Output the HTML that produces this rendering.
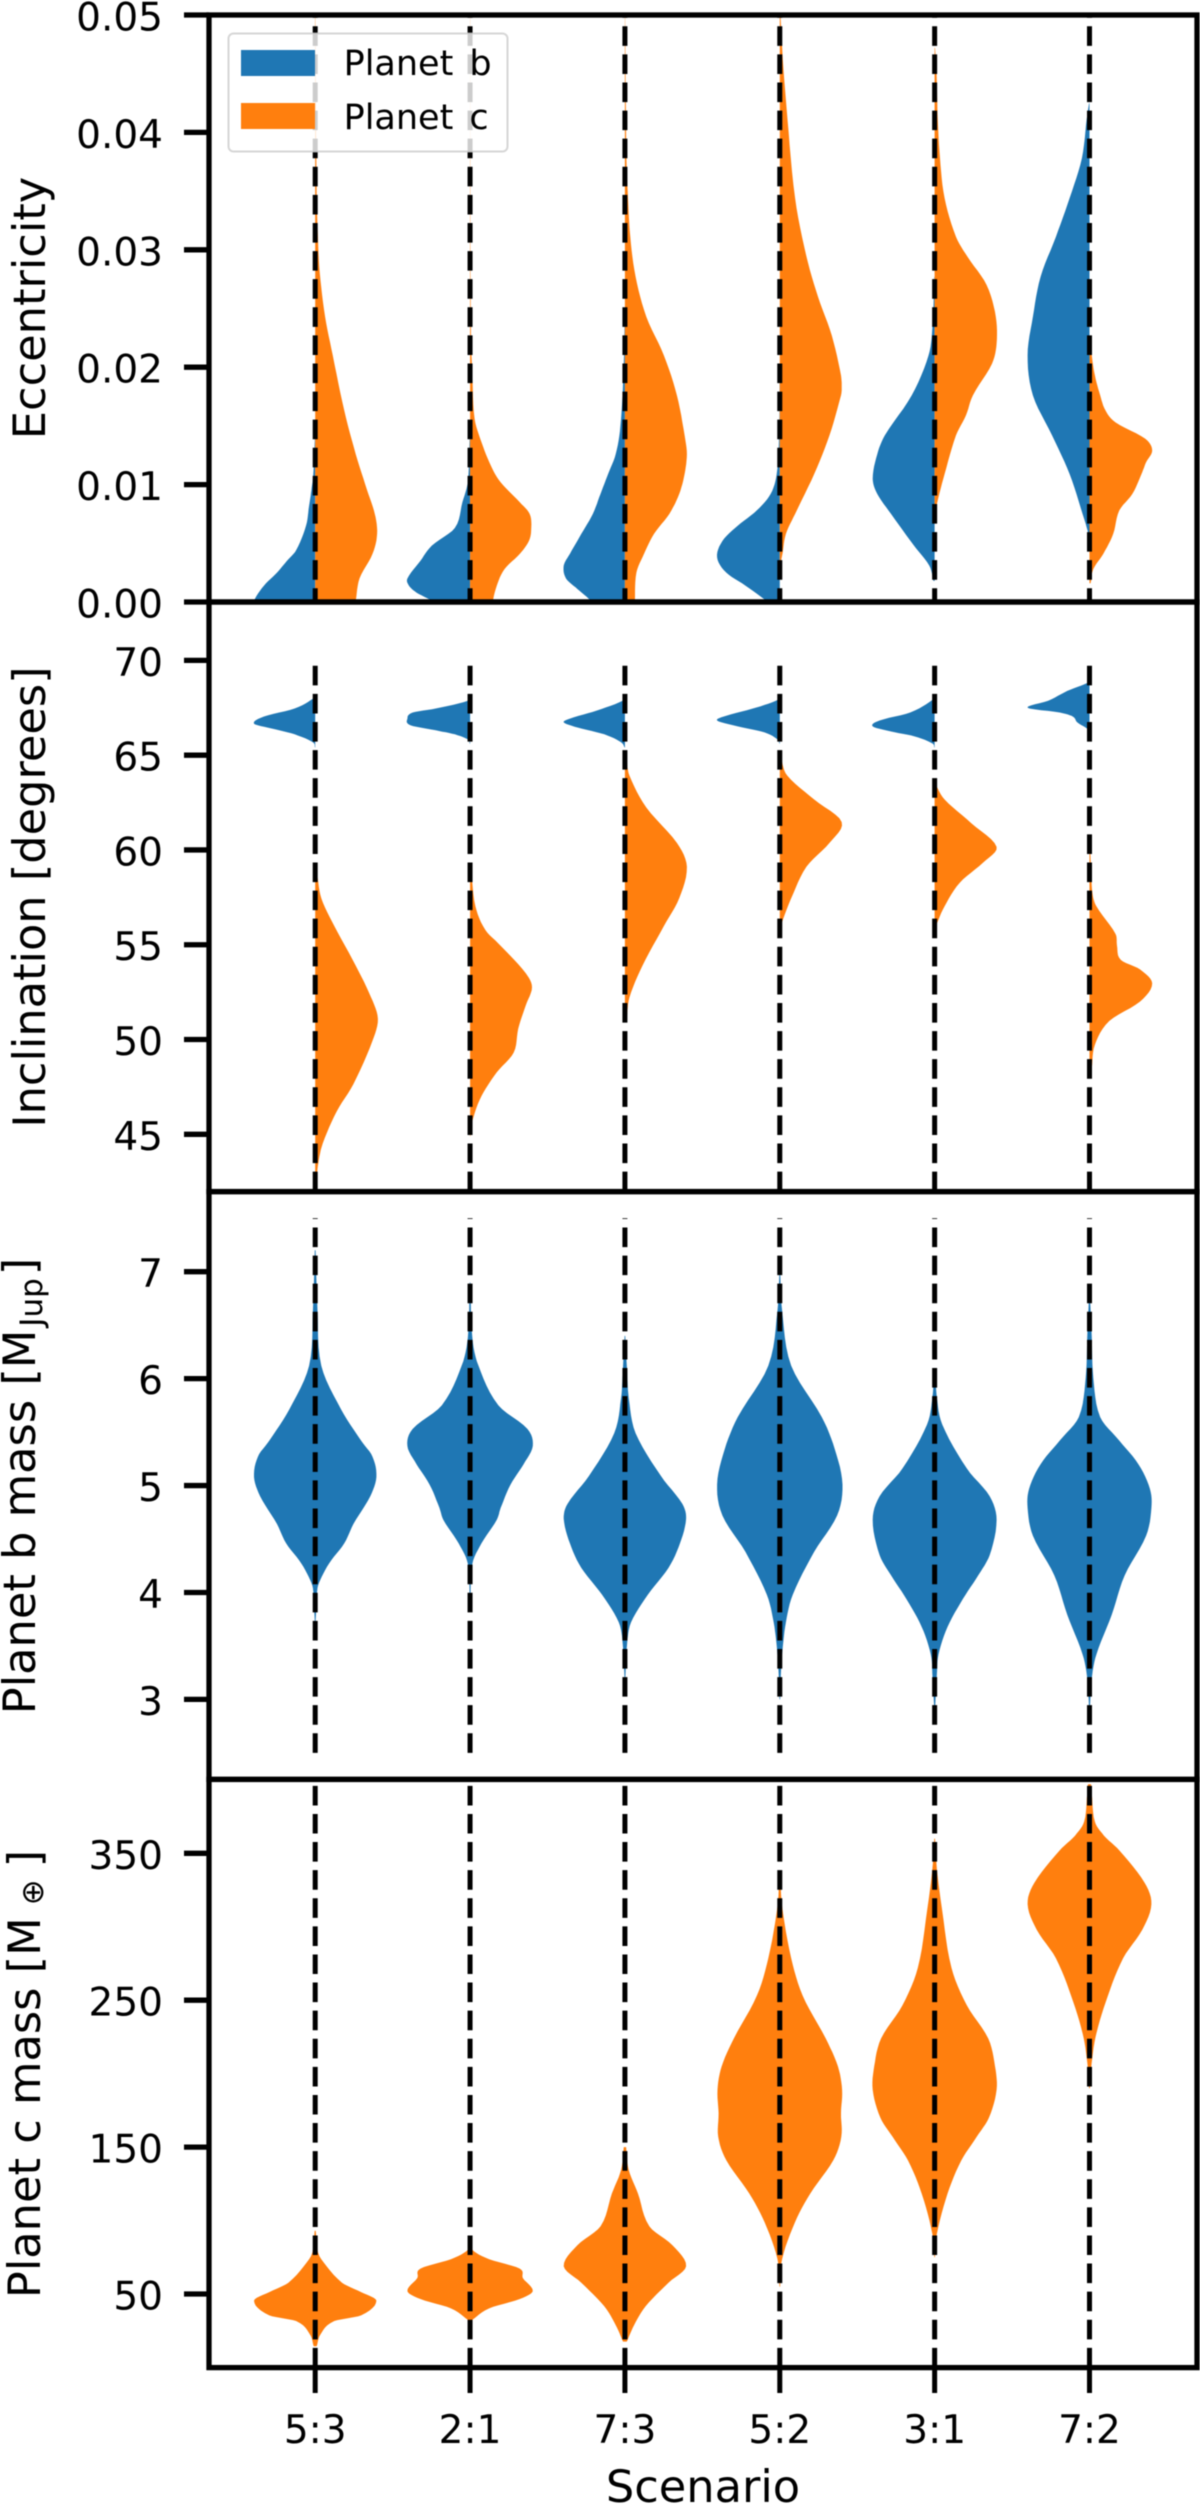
<!DOCTYPE html>
<html lang="en">
<head>
<meta charset="utf-8">
<title>Violin plots of orbital parameters by resonance scenario</title>
<style>
html,body{margin:0;padding:0;background:#fff;}
svg{display:block;font-family:"DejaVu Sans","Liberation Sans",sans-serif;fill:#000;filter:blur(0.4px);}
</style>
</head>
<body>
<svg id="chart" xmlns="http://www.w3.org/2000/svg" width="1200" height="2508" viewBox="0 0 1200 2508">
  <defs>
    <clipPath id="clip-ecc"><rect x="209" y="15" width="988" height="587"/></clipPath>
    <clipPath id="clip-inc"><rect x="209" y="602" width="988" height="589.6"/></clipPath>
    <clipPath id="clip-mb"><rect x="209" y="1191.6" width="988" height="587.8"/></clipPath>
    <clipPath id="clip-mc"><rect x="209" y="1779.4" width="988" height="588.2"/></clipPath>
  </defs>
  <g id="marks"></g>
  <g id="axes" fill="none" stroke="#000" stroke-width="5.3">
    <rect x="209" y="15" width="988" height="587"/>
    <rect x="209" y="602" width="988" height="589.6"/>
    <rect x="209" y="1191.6" width="988" height="587.8"/>
    <rect x="209" y="1779.4" width="988" height="588.2"/>
  </g>
  <g id="ticks"></g>
  <g font-size="44.7">
    <text transform="translate(45,308) rotate(-90)" text-anchor="middle">Eccentricity</text>
    <text transform="translate(45,897) rotate(-90)" text-anchor="middle">Inclination [degrees]</text>
    <text transform="translate(35,1486) rotate(-90)" text-anchor="middle">Planet b mass [M<tspan dy="7" dx="3" font-size="31">Jup</tspan><tspan dy="-7" dx="3">]</tspan></text>
    <text transform="translate(40,2074) rotate(-90)" text-anchor="middle">Planet c mass [M<tspan dy="3" dx="12" font-size="31">⊕</tspan><tspan dy="-3" dx="12">]</tspan></text>
    <text x="703" y="2502" text-anchor="middle">Scenario</text>
  </g>
  <g>
    <rect x="228.5" y="33.5" width="279" height="118" rx="5" fill="#fff" fill-opacity="0.8" stroke="#ccc" stroke-opacity="0.8" stroke-width="2"/>
    <rect x="241" y="50" width="74" height="26" fill="#1f77b4"/>
    <rect x="241" y="103" width="74" height="26" fill="#ff7f0e"/>
    <text x="343.6" y="75" font-size="35" word-spacing="5">Planet b</text>
    <text x="343.6" y="129" font-size="35" word-spacing="5">Planet c</text>
  </g>
</svg>
<script>
const scenarios = ['5:3', '2:1', '7:3', '5:2', '3:1', '7:2'];

const eccTicks = [0, 0.01, 0.02, 0.03, 0.04, 0.05];
const eccTickLabels = ['0.00', '0.01', '0.02', '0.03', '0.04', '0.05'];
const incTicks = [45, 50, 55, 60, 65, 70];
const incTickLabels = ['45', '50', '55', '60', '65', '70'];
const massBTicks = [3, 4, 5, 6, 7];
const massBTickLabels = ['3', '4', '5', '6', '7'];
const massCTicks = [50, 150, 250, 350];
const massCTickLabels = ['50', '150', '250', '350'];

/* vertical guide extents, in each panel's data units */
const eccGuideRange = [-0.0005, 0.05];
const incGuideRange = [42, 70];
const massBGuideRange = [2.5, 7.5];
const massCGuideRange = [0, 400];

/* Eccentricity: value samples and relative density for each half-violin */
const eccB53Val = [-0.001, 0.0001, 0.0014, 0.0025, 0.0035, 0.0044, 0.0065, 0.0082, 0.0095, 0.0109, 0.014];
const eccB53Den = [82, 80, 67, 50, 37, 25, 12, 8, 5, 2.5, 0.4];
const eccC53Val = [-0.001, 0.0001, 0.002, 0.0041, 0.0058, 0.0075, 0.0095, 0.0126, 0.0163, 0.021, 0.0243, 0.028, 0.0311, 0.0344, 0.045, 0.05];
const eccC53Den = [50, 53, 58, 75, 81, 78, 68, 53, 38, 23, 13, 6, 3.5, 2, 0.7, 0.3];
const eccB21Val = [-0.001, 0.0001, 0.0008, 0.0014, 0.002, 0.0035, 0.0048, 0.0063, 0.0085, 0.0102, 0.0142];
const eccB21Den = [30, 50, 70, 80, 82, 65, 50, 20, 10, 3, 0.4];
const eccC21Val = [-0.001, 0.0001, 0.0014, 0.0028, 0.0041, 0.0052, 0.0062, 0.0075, 0.0085, 0.0102, 0.0115, 0.0136, 0.0156, 0.0193, 0.0227, 0.0311, 0.0499];
const eccC21Den = [29, 30, 35, 45, 65, 77, 80, 78, 65, 40, 28, 15, 6, 3, 1.2, 0.5, 0.2];
const eccB73Val = [-0.001, 0.0001, 0.0011, 0.002, 0.0031, 0.0041, 0.0058, 0.0075, 0.0092, 0.0109, 0.0126, 0.0149, 0.0193, 0.0243];
const eccB73Den = [38, 45, 62, 77, 80, 72, 57, 42, 32, 22, 12, 6, 2, 0.3];
const eccC73Val = [-0.001, 0.0001, 0.0025, 0.0041, 0.0058, 0.0075, 0.0092, 0.0109, 0.0126, 0.0142, 0.0176, 0.021, 0.0243, 0.0277, 0.0311, 0.0344, 0.0378, 0.05];
const eccC73Den = [13, 13, 15, 25, 38, 58, 71, 78, 81, 78, 68, 51, 28, 14, 7, 4, 2, 0.2];
const eccB52Val = [-0.0005, 0, 0.0014, 0.0025, 0.0038, 0.0052, 0.0065, 0.0078, 0.0092, 0.0109, 0.0142, 0.02];
const eccB52Den = [10, 16, 45, 70, 82, 75, 55, 30, 12, 4, 1, 0.3];
const eccC52Val = [0.0035, 0.0041, 0.0058, 0.0075, 0.0109, 0.0142, 0.0176, 0.0181, 0.0193, 0.0227, 0.026, 0.0294, 0.0344, 0.0412, 0.0462, 0.0499];
const eccC52Den = [1.5, 3.5, 8, 20, 45, 65, 80, 81, 80, 68, 50, 35, 20, 10, 4, 1];
const eccB31Val = [0.0018, 0.0031, 0.0048, 0.0075, 0.0092, 0.0105, 0.0126, 0.0142, 0.0176, 0.021, 0.0233, 0.0277];
const eccB31Den = [1.5, 7, 27, 57, 75, 81, 75, 65, 30, 8, 3, 0.4];
const eccC31Val = [0.007, 0.0078, 0.0085, 0.0109, 0.0142, 0.0159, 0.0176, 0.0203, 0.022, 0.0243, 0.027, 0.0294, 0.0311, 0.0344, 0.0378, 0.0412, 0.0449, 0.0472];
const eccC31Den = [0.7, 2, 3.5, 13, 28, 41, 50, 75, 81, 80, 68, 43, 28, 13, 7, 4, 2.5, 0.5];
const eccB72Val = [0.0055, 0.0062, 0.0075, 0.0109, 0.0142, 0.0176, 0.021, 0.0243, 0.0277, 0.0311, 0.0344, 0.0378, 0.0412, 0.0425];
const eccB72Den = [0.7, 3, 9, 26, 49, 74, 81, 74, 64, 44, 26, 10, 3.5, 0.5];
const eccC72Val = [0.0016, 0.0028, 0.0041, 0.0058, 0.0078, 0.0092, 0.0109, 0.0119, 0.0129, 0.0139, 0.0153, 0.0163, 0.0176, 0.0193, 0.021, 0.0227];
const eccC72Den = [1.5, 5, 18, 31, 39, 56, 68, 74, 82, 73, 34, 21, 14, 7, 3, 0.5];

/* Inclination */
const incB53Val = [65.4, 65.68, 66.1, 66.41, 66.66, 67.04, 67.46, 67.98, 68.2];
const incB53Den = [0.3, 3, 27, 57, 80, 67, 27, 3, 0.3];
const incC53Val = [42.44, 43.48, 44.53, 46.2, 47.65, 49.94, 51.09, 52.23, 53.9, 55.99, 57.45, 58.7, 59.1];
const incC53Den = [1.5, 4, 10, 28, 50, 75, 82, 73, 53, 25, 8, 2.5, 0.5];
const incB21Val = [65.6, 65.83, 66.1, 66.31, 66.58, 66.93, 67.25, 67.46, 67.87, 68.1];
const incB21Den = [0.3, 3, 20, 45, 78, 82, 75, 45, 3, 0.3];
const incC21Val = [44.9, 45.77, 47.02, 48.27, 49.3, 50.57, 51.82, 52.76, 53.49, 54.95, 55.78, 57.03, 58.9];
const incC21Den = [0.5, 3.5, 15, 35, 57, 63, 73, 81, 73, 40, 20, 7, 1.5];
const incB73Val = [65.4, 65.68, 66.1, 66.46, 66.73, 66.93, 67.35, 67.87, 68.1];
const incB73Den = [0.3, 5, 27, 62, 80, 72, 37, 3, 0.3];
const incC73Val = [51.19, 52.23, 53.9, 55.99, 57.45, 59.12, 60.37, 62.24, 63.91, 64.75];
const incC73Den = [2.5, 6, 23, 51, 71, 81, 68, 28, 6, 2];
const incB52Val = [65.6, 65.83, 66.2, 66.52, 66.83, 67.08, 67.52, 67.91, 68.1];
const incB52Den = [0.3, 3, 20, 55, 82, 70, 30, 3, 0.3];
const incC52Val = [55.8, 56.2, 57.45, 59.12, 60.37, 61.47, 62.66, 63.91, 64.75];
const incC52Den = [0.8, 3, 15, 35, 65, 81, 45, 10, 2];
const incB31Val = [65.4, 65.62, 66, 66.25, 66.52, 66.83, 67.25, 67.91, 68.1];
const incB31Den = [0.3, 3, 27, 57, 81, 72, 32, 3, 0.3];
const incC31Val = [55.99, 57.03, 58.28, 59.32, 60.16, 61.41, 62.66, 63.39];
const incC31Den = [1.5, 13, 33, 63, 81, 48, 13, 2];
const incB72Val = [66.2, 66.37, 66.73, 67.04, 67.25, 67.5, 67.87, 68.39, 68.81, 69];
const incB72Den = [0.3, 2, 16, 22, 39, 81, 54, 29, 3, 0.3];
const incC72Val = [48.48, 49.72, 50.98, 52, 52.96, 53.7, 54.2, 54.95, 55.57, 57.03, 57.66, 58.6, 60.37];
const incC72Den = [3, 7, 26, 66, 82, 66, 41, 36, 34, 9, 4, 2.5, 0.5];

/* Planet b mass */
const massB53Val = [3.7, 4.01, 4.09, 4.27, 4.46, 4.64, 4.9, 5.08, 5.27, 5.42, 5.71, 6.12, 6.64, 7.2];
const massB53Den = [0.4, 2.5, 5, 18, 38, 50, 72, 80, 75, 60, 34, 8, 3, 0.5];
const massB21Val = [3.9, 4.27, 4.46, 4.68, 4.79, 5.01, 5.2, 5.37, 5.53, 5.75, 6.12, 6.38, 6.9];
const massB21Den = [0.4, 3, 15, 35, 40, 53, 70, 82, 75, 37, 11, 3, 0.4];
const massB73Val = [3.2, 3.53, 3.72, 3.98, 4.23, 4.46, 4.69, 4.83, 5.09, 5.49, 5.82, 6.05, 6.4];
const massB73Den = [0.5, 3, 8, 30, 57, 72, 80, 75, 47, 14, 5, 3, 0.4];
const massB52Val = [3, 3.25, 3.46, 3.72, 3.98, 4.38, 4.72, 5.01, 5.34, 5.64, 6.12, 6.64, 7];
const massB52Den = [0.4, 1.5, 3.5, 8, 17, 45, 75, 82, 72, 55, 15, 3, 0.4];
const massB31Val = [2.9, 3.24, 3.42, 3.68, 3.94, 4.16, 4.35, 4.68, 4.9, 5.16, 5.57, 5.82, 6.1];
const massB31Den = [0.4, 3, 5, 17, 37, 57, 72, 81, 72, 42, 10, 3, 0.4];
const massB72Val = [2.9, 3.2, 3.42, 3.79, 4.16, 4.53, 4.79, 4.97, 5.2, 5.42, 5.64, 6.01, 6.38, 6.8];
const massB72Den = [0.4, 3, 9, 29, 46, 74, 81, 79, 64, 39, 14, 5, 3, 0.4];

/* Planet c mass */
const massC53Val = [14.4, 22.6, 31.6, 35.4, 45.5, 51.3, 57.7, 73.7, 80, 93];
const massC53Den = [2, 7, 25, 60, 80, 60, 35, 8, 3, 0.7];
const massC21Val = [32, 40.2, 46.6, 52, 60.9, 67.3, 73.7, 80, 86];
const massC21Den = [2, 25, 65, 82, 69, 65, 25, 3, 0.5];
const massC73Val = [17.6, 28.8, 41.6, 57.7, 68.9, 83.3, 96, 118.5, 134.5, 150];
const massC73Den = [2.5, 12, 27, 57, 80, 62, 32, 17, 5, 1.5];
const massC52Val = [55, 73.7, 99, 118.5, 141, 157, 173, 189, 205, 224, 253, 278.6, 314, 336];
const massC52Den = [0.4, 3, 20, 40, 70, 80.5, 80, 81.5, 76, 60, 30, 15, 3, 0.5];
const massC31Val = [75, 91, 118.5, 141, 157, 170, 189, 205, 224, 246.6, 272, 310.6, 339, 360];
const massC31Den = [0.4, 3, 17, 35, 55, 71, 81, 79, 70, 42, 22, 10, 3, 0.5];
const massC72Val = [190, 208, 227.4, 253, 278.6, 298, 315.4, 330, 352, 362, 371.5, 390.7, 397];
const massC72Den = [0.5, 3, 9, 24, 44, 69, 81, 72, 39, 19, 7, 3, 2];

const BLUE = '#1f77b4';
const ORANGE = '#ff7f0e';
const SVGNS = 'http://www.w3.org/2000/svg';
const marksGroup = document.getElementById('marks');
const ticksGroup = document.getElementById('ticks');

function linearScale(d0, d1, r0, r1) {
  return function (v) { return r0 + (v - d0) * (r1 - r0) / (d1 - d0); };
}
const xScale = linearScale(0, 5, 315.2, 1089.5);
const densityScale = linearScale(0, 82, 0, 62.7);

function resample(vals, dens) {
  const out = [];
  const n = vals.length;
  function slope(i) {
    const a = Math.max(0, i - 1), b = Math.min(n - 1, i + 1);
    return (dens[b] - dens[a]) / (vals[b] - vals[a]);
  }
  for (let i = 0; i < n - 1; i++) {
    const h = vals[i + 1] - vals[i];
    const m0 = slope(i) * h, m1 = slope(i + 1) * h;
    for (let k = 0; k < 6; k++) {
      const t = k / 6, t2 = t * t, t3 = t2 * t;
      const d = (2 * t3 - 3 * t2 + 1) * dens[i] + (t3 - 2 * t2 + t) * m0 + (-2 * t3 + 3 * t2) * dens[i + 1] + (t3 - t2) * m1;
      out.push([vals[i] + h * t, Math.max(0, d)]);
    }
  }
  out.push([vals[n - 1], dens[n - 1]]);
  return out;
}

function drawViolin(parent, index, vals, dens, side, color, yScale, name) {
  const cx = xScale(index);
  const pts = resample(vals, dens);
  const fwd = [], back = [];
  pts.forEach(function (p) {
    const w = densityScale(p[1]);
    const y = yScale(p[0]).toFixed(1);
    fwd.push((side === 'left' ? cx : cx + w).toFixed(1) + ',' + y);
    back.unshift((side === 'right' ? cx : cx - w).toFixed(1) + ',' + y);
  });
  const poly = document.createElementNS(SVGNS, 'polygon');
  poly.setAttribute('points', fwd.concat(back).join(' '));
  poly.setAttribute('fill', color);
  
  
  parent.appendChild(poly);
}

function drawGuide(parent, index, range, yScale) {
  const x = xScale(index);
  const line = document.createElementNS(SVGNS, 'line');
  line.setAttribute('x1', x);
  line.setAttribute('x2', x);
  line.setAttribute('y1', yScale(range[0]));
  line.setAttribute('y2', yScale(range[1]));
  line.setAttribute('stroke', '#000');
  line.setAttribute('stroke-width', '5');
  line.setAttribute('stroke-dasharray', '19.6 8.5');
  
  
  parent.appendChild(line);
}

function drawYTicks(ticks, labels, yScale, prefix) {
  ticks.forEach(function (t, i) {
    const y = yScale(t);
    const mark = document.createElementNS(SVGNS, 'line');
    mark.setAttribute('x1', 184);
    mark.setAttribute('x2', 209);
    mark.setAttribute('y1', y);
    mark.setAttribute('y2', y);
    mark.setAttribute('stroke', '#000');
    mark.setAttribute('stroke-width', '5.3');
    
    
    ticksGroup.appendChild(mark);
    const txt = document.createElementNS(SVGNS, 'text');
    txt.setAttribute('x', 163);
    txt.setAttribute('y', y + 15.5);
    txt.setAttribute('text-anchor', 'end');
    txt.setAttribute('font-size', '39');
    txt.textContent = labels[i];
    
    
    ticksGroup.appendChild(txt);
  });
}

function makePanel(clipId, name) {
  const g = document.createElementNS(SVGNS, 'g');
  g.setAttribute('clip-path', 'url(#' + clipId + ')');
  
  
  marksGroup.appendChild(g);
  return g;
}

const eccY = linearScale(0, 0.05, 602, 15);
const incY = linearScale(70, 45, 660.4, 1134.3);
const massBY = linearScale(7, 3, 1271.7, 1699.4);
const massCY = linearScale(350, 50, 1853.3, 2294);

const eccPanel = makePanel('clip-ecc', 'eccentricity-panel');
const incPanel = makePanel('clip-inc', 'inclination-panel');
const massBPanel = makePanel('clip-mb', 'planet-b-mass-panel');
const massCPanel = makePanel('clip-mc', 'planet-c-mass-panel');

const eccBVals = [eccB53Val, eccB21Val, eccB73Val, eccB52Val, eccB31Val, eccB72Val];
const eccBDens = [eccB53Den, eccB21Den, eccB73Den, eccB52Den, eccB31Den, eccB72Den];
const eccCVals = [eccC53Val, eccC21Val, eccC73Val, eccC52Val, eccC31Val, eccC72Val];
const eccCDens = [eccC53Den, eccC21Den, eccC73Den, eccC52Den, eccC31Den, eccC72Den];
const incBVals = [incB53Val, incB21Val, incB73Val, incB52Val, incB31Val, incB72Val];
const incBDens = [incB53Den, incB21Den, incB73Den, incB52Den, incB31Den, incB72Den];
const incCVals = [incC53Val, incC21Val, incC73Val, incC52Val, incC31Val, incC72Val];
const incCDens = [incC53Den, incC21Den, incC73Den, incC52Den, incC31Den, incC72Den];
const massBVals = [massB53Val, massB21Val, massB73Val, massB52Val, massB31Val, massB72Val];
const massBDens = [massB53Den, massB21Den, massB73Den, massB52Den, massB31Den, massB72Den];
const massCVals = [massC53Val, massC21Val, massC73Val, massC52Val, massC31Val, massC72Val];
const massCDens = [massC53Den, massC21Den, massC73Den, massC52Den, massC31Den, massC72Den];

scenarios.forEach(function (label, i) {
  const tag = label.replace(':', '-');
  drawViolin(eccPanel, i, eccBVals[i], eccBDens[i], 'left', BLUE, eccY, 'eccentricity-violin-b-' + tag);
  drawViolin(eccPanel, i, eccCVals[i], eccCDens[i], 'right', ORANGE, eccY, 'eccentricity-violin-c-' + tag);
  drawViolin(incPanel, i, incBVals[i], incBDens[i], 'left', BLUE, incY, 'inclination-violin-b-' + tag);
  drawViolin(incPanel, i, incCVals[i], incCDens[i], 'right', ORANGE, incY, 'inclination-violin-c-' + tag);
  drawViolin(massBPanel, i, massBVals[i], massBDens[i], 'both', BLUE, massBY, 'planet-b-mass-violin-' + tag);
  drawViolin(massCPanel, i, massCVals[i], massCDens[i], 'both', ORANGE, massCY, 'planet-c-mass-violin-' + tag);
  drawGuide(eccPanel, i, eccGuideRange, eccY);
  drawGuide(incPanel, i, incGuideRange, incY);
  drawGuide(massBPanel, i, massBGuideRange, massBY);
  drawGuide(massCPanel, i, massCGuideRange, massCY);

  const x = xScale(i);
  const tick = document.createElementNS(SVGNS, 'line');
  tick.setAttribute('x1', x);
  tick.setAttribute('x2', x);
  tick.setAttribute('y1', 2367.6);
  tick.setAttribute('y2', 2393);
  tick.setAttribute('stroke', '#000');
  tick.setAttribute('stroke-width', '5');
  
  
  ticksGroup.appendChild(tick);
  const txt = document.createElementNS(SVGNS, 'text');
  txt.setAttribute('x', x);
  txt.setAttribute('y', 2443);
  txt.setAttribute('text-anchor', 'middle');
  txt.setAttribute('font-size', '39');
  txt.textContent = label;
  
  
  ticksGroup.appendChild(txt);
});

drawYTicks(eccTicks, eccTickLabels, eccY, 'eccentricity');
drawYTicks(incTicks, incTickLabels, incY, 'inclination');
drawYTicks(massBTicks, massBTickLabels, massBY, 'planet-b-mass');
drawYTicks(massCTicks, massCTickLabels, massCY, 'planet-c-mass');
</script>
</body>
</html>
